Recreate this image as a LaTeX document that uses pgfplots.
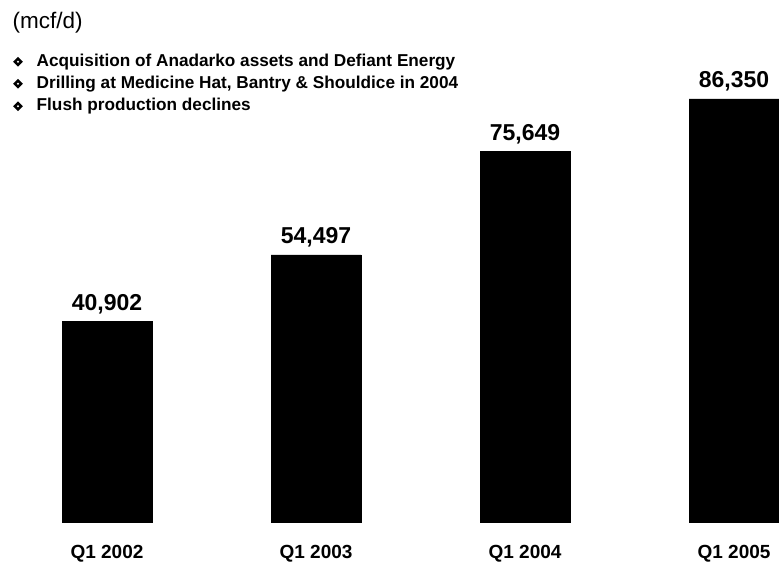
\documentclass[border=0pt]{standalone}
\usepackage{pgfplots}
\pgfplotsset{compat=1.18}
\usepackage{fontspec}
\setmainfont{Liberation Sans}
\usetikzlibrary{shapes.geometric}
\begin{document}
\begin{tikzpicture}[x=1pt,y=1pt]
\path[use as bounding box] (0,0) rectangle (779,565);
% unit and bullet notes
\node[anchor=base west, inner sep=0pt, font=\fontsize{22.5}{24}\selectfont] at (12.5,536) {(mcf/d)};
\foreach \yy/\txt in {498.5/{Acquisition of Anadarko assets and Defiant Energy},
                      476.5/{Drilling at Medicine Hat, Bantry \& Shouldice in 2004},
                      454/{Flush production declines}} {
  \node[diamond, fill=black, inner sep=0pt, minimum width=10pt, minimum height=10pt] at (18,\yy+4.7) {};
  \fill[white] (18,\yy+4.7) circle (1.2pt);
  \node[anchor=base west, inner sep=0pt, font=\bfseries\fontsize{17.2}{19}\selectfont] at (36.5,\yy) {\txt};
}
\begin{axis}[
    at={(0pt,43pt)}, anchor=south west,
    scale only axis, width=779pt, height=522pt,
    ybar, bar width=90pt,
    xmin=-0.512, xmax=3.215,
    ymin=0, ymax=106531,
    axis line style={draw=none},
    ytick=\empty,
    xtick=data,
    xticklabels={Q1 2002, Q1 2003, Q1 2004, Q1 2005},
    major tick length=0pt,
    xticklabel style={anchor=base, yshift=-36pt, font=\bfseries\fontsize{19}{20}\selectfont},
    clip=false,
    nodes near coords,
    /pgf/number format/.cd, 1000 sep={,}, fixed, precision=0, assume math mode=true,
    /pgfplots/.cd,
    every node near coord/.append style={anchor=base, yshift=11pt, inner sep=0pt,
        font=\bfseries\fontsize{23}{24}\selectfont},
]
\addplot[fill=black, draw=black] coordinates {
    (0,40902)
    (1,54497)
    (2,75649)
    (3,86350)
};
\end{axis}
\end{tikzpicture}
\end{document}
